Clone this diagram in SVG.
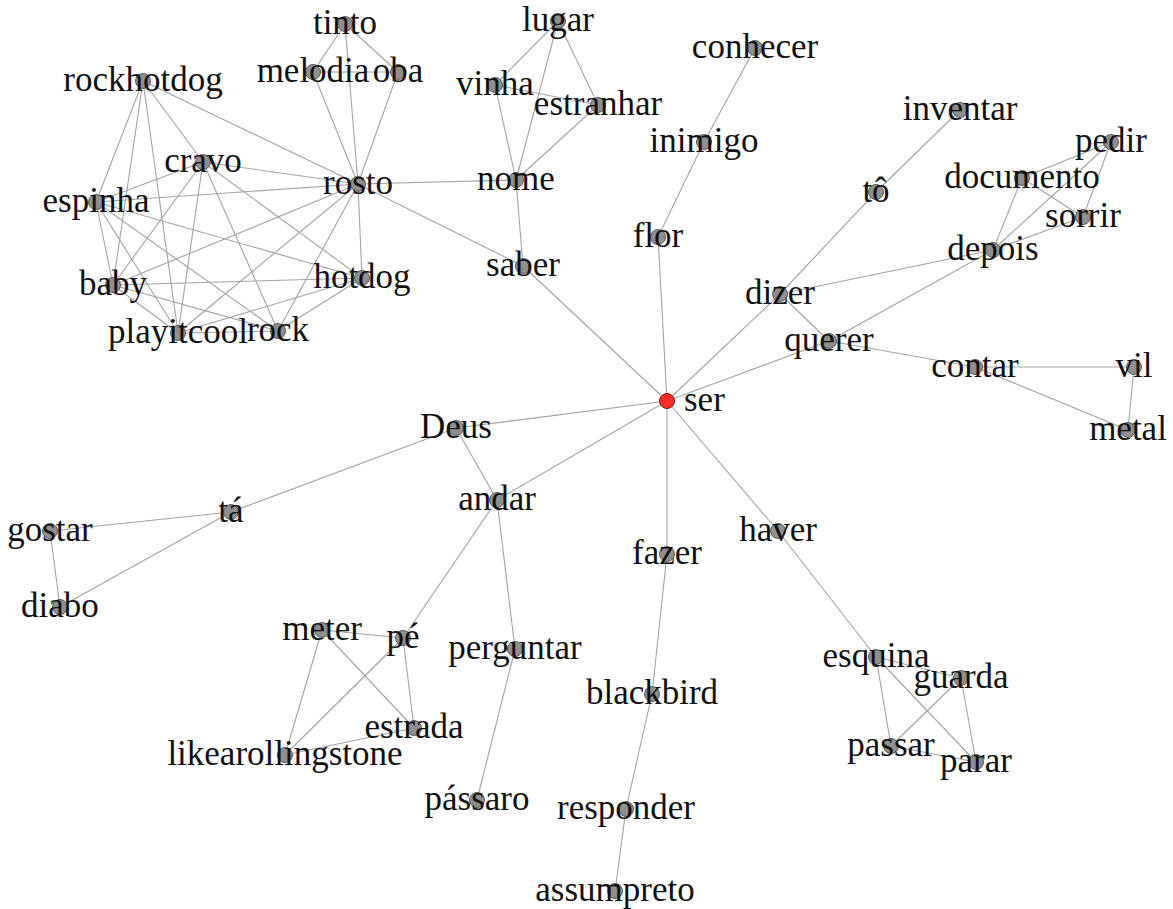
<svg xmlns="http://www.w3.org/2000/svg" width="1173" height="909" viewBox="0 0 1173 909">
<style>
.e{stroke:#a3a3a3;stroke-width:1.1;fill:none}
.n{fill:#8f8f8f;stroke:#5a5a5a;stroke-width:1}
.s{fill:#ff2a2a;stroke:#7a1a1a;stroke-width:1}
text{font-family:"Liberation Serif","Times New Roman",serif;font-size:35px;fill:#111;text-anchor:middle}
</style>
<rect width="1173" height="909" fill="#fff"/>
<g id="edges">
<line class="e" x1="345" y1="24" x2="313" y2="72"/>
<line class="e" x1="345" y1="24" x2="398" y2="72"/>
<line class="e" x1="345" y1="24" x2="358" y2="184"/>
<line class="e" x1="313" y1="72" x2="398" y2="72"/>
<line class="e" x1="313" y1="72" x2="358" y2="184"/>
<line class="e" x1="398" y1="72" x2="358" y2="184"/>
<line class="e" x1="143" y1="81" x2="358" y2="184"/>
<line class="e" x1="143" y1="81" x2="203" y2="162"/>
<line class="e" x1="143" y1="81" x2="96" y2="202"/>
<line class="e" x1="143" y1="81" x2="113" y2="285"/>
<line class="e" x1="143" y1="81" x2="178" y2="333"/>
<line class="e" x1="203" y1="162" x2="358" y2="184"/>
<line class="e" x1="203" y1="162" x2="96" y2="202"/>
<line class="e" x1="203" y1="162" x2="113" y2="285"/>
<line class="e" x1="203" y1="162" x2="178" y2="333"/>
<line class="e" x1="203" y1="162" x2="278" y2="331"/>
<line class="e" x1="203" y1="162" x2="362" y2="278"/>
<line class="e" x1="96" y1="202" x2="358" y2="184"/>
<line class="e" x1="96" y1="202" x2="113" y2="285"/>
<line class="e" x1="96" y1="202" x2="178" y2="333"/>
<line class="e" x1="96" y1="202" x2="278" y2="331"/>
<line class="e" x1="96" y1="202" x2="362" y2="278"/>
<line class="e" x1="113" y1="285" x2="358" y2="184"/>
<line class="e" x1="113" y1="285" x2="362" y2="278"/>
<line class="e" x1="113" y1="285" x2="278" y2="331"/>
<line class="e" x1="113" y1="285" x2="178" y2="333"/>
<line class="e" x1="178" y1="333" x2="358" y2="184"/>
<line class="e" x1="178" y1="333" x2="362" y2="278"/>
<line class="e" x1="178" y1="333" x2="278" y2="331"/>
<line class="e" x1="278" y1="331" x2="358" y2="184"/>
<line class="e" x1="278" y1="331" x2="362" y2="278"/>
<line class="e" x1="362" y1="278" x2="358" y2="184"/>
<line class="e" x1="358" y1="184" x2="516" y2="180"/>
<line class="e" x1="358" y1="184" x2="523" y2="266"/>
<line class="e" x1="558" y1="21" x2="495" y2="85"/>
<line class="e" x1="558" y1="21" x2="516" y2="180"/>
<line class="e" x1="558" y1="21" x2="598" y2="105"/>
<line class="e" x1="495" y1="85" x2="598" y2="105"/>
<line class="e" x1="495" y1="85" x2="516" y2="180"/>
<line class="e" x1="598" y1="105" x2="516" y2="180"/>
<line class="e" x1="516" y1="180" x2="523" y2="266"/>
<line class="e" x1="755" y1="48" x2="704" y2="142"/>
<line class="e" x1="704" y1="142" x2="658" y2="237"/>
<line class="e" x1="658" y1="237" x2="667" y2="401"/>
<line class="e" x1="523" y1="266" x2="667" y2="401"/>
<line class="e" x1="960" y1="110" x2="876" y2="192"/>
<line class="e" x1="876" y1="192" x2="780" y2="294"/>
<line class="e" x1="1111" y1="142" x2="1022" y2="178"/>
<line class="e" x1="1111" y1="142" x2="1083" y2="217"/>
<line class="e" x1="1111" y1="142" x2="993" y2="250"/>
<line class="e" x1="1022" y1="178" x2="1083" y2="217"/>
<line class="e" x1="1022" y1="178" x2="993" y2="250"/>
<line class="e" x1="1083" y1="217" x2="993" y2="250"/>
<line class="e" x1="993" y1="250" x2="780" y2="294"/>
<line class="e" x1="993" y1="250" x2="829" y2="341"/>
<line class="e" x1="780" y1="294" x2="829" y2="341"/>
<line class="e" x1="780" y1="294" x2="667" y2="401"/>
<line class="e" x1="829" y1="341" x2="667" y2="401"/>
<line class="e" x1="829" y1="341" x2="975" y2="367"/>
<line class="e" x1="975" y1="367" x2="1134" y2="367"/>
<line class="e" x1="975" y1="367" x2="1128" y2="430"/>
<line class="e" x1="1134" y1="367" x2="1128" y2="430"/>
<line class="e" x1="667" y1="401" x2="456" y2="428"/>
<line class="e" x1="667" y1="401" x2="497" y2="500"/>
<line class="e" x1="667" y1="401" x2="667" y2="554"/>
<line class="e" x1="667" y1="401" x2="778" y2="531"/>
<line class="e" x1="456" y1="428" x2="231" y2="512"/>
<line class="e" x1="456" y1="428" x2="497" y2="500"/>
<line class="e" x1="231" y1="512" x2="50" y2="531"/>
<line class="e" x1="231" y1="512" x2="60" y2="607"/>
<line class="e" x1="50" y1="531" x2="60" y2="607"/>
<line class="e" x1="497" y1="500" x2="403" y2="638"/>
<line class="e" x1="497" y1="500" x2="515" y2="649"/>
<line class="e" x1="322" y1="630" x2="403" y2="638"/>
<line class="e" x1="322" y1="630" x2="414" y2="728"/>
<line class="e" x1="322" y1="630" x2="285" y2="755"/>
<line class="e" x1="403" y1="638" x2="414" y2="728"/>
<line class="e" x1="403" y1="638" x2="285" y2="755"/>
<line class="e" x1="414" y1="728" x2="285" y2="755"/>
<line class="e" x1="515" y1="649" x2="477" y2="800"/>
<line class="e" x1="667" y1="554" x2="652" y2="694"/>
<line class="e" x1="652" y1="694" x2="626" y2="809"/>
<line class="e" x1="626" y1="809" x2="615" y2="891"/>
<line class="e" x1="778" y1="531" x2="876" y2="657"/>
<line class="e" x1="876" y1="657" x2="961" y2="678"/>
<line class="e" x1="876" y1="657" x2="891" y2="746"/>
<line class="e" x1="876" y1="657" x2="976" y2="762"/>
<line class="e" x1="961" y1="678" x2="891" y2="746"/>
<line class="e" x1="961" y1="678" x2="976" y2="762"/>
<line class="e" x1="891" y1="746" x2="976" y2="762"/>
</g>
<g id="n-rockhotdog"><circle class="n" cx="143" cy="81" r="7.5"/><text x="143" y="91">rockhotdog</text></g>
<g id="n-tinto"><circle class="n" cx="345" cy="24" r="7.5"/><text x="345" y="34">tinto</text></g>
<g id="n-melodia"><circle class="n" cx="313" cy="72" r="7.5"/><text x="313" y="82">melodia</text></g>
<g id="n-oba"><circle class="n" cx="398" cy="72" r="7.5"/><text x="398" y="82">oba</text></g>
<g id="n-cravo"><circle class="n" cx="203" cy="162" r="7.5"/><text x="203" y="172">cravo</text></g>
<g id="n-rosto"><circle class="n" cx="358" cy="184" r="7.5"/><text x="358" y="194">rosto</text></g>
<g id="n-espinha"><circle class="n" cx="96" cy="202" r="7.5"/><text x="96" y="212">espinha</text></g>
<g id="n-hotdog"><circle class="n" cx="362" cy="278" r="7.5"/><text x="362" y="288">hotdog</text></g>
<g id="n-baby"><circle class="n" cx="113" cy="285" r="7.5"/><text x="113" y="295">baby</text></g>
<g id="n-playitcool"><circle class="n" cx="178" cy="333" r="7.5"/><text x="178" y="343">playitcool</text></g>
<g id="n-rock"><circle class="n" cx="278" cy="331" r="7.5"/><text x="278" y="341">rock</text></g>
<g id="n-lugar"><circle class="n" cx="558" cy="21" r="7.5"/><text x="558" y="31">lugar</text></g>
<g id="n-vinha"><circle class="n" cx="495" cy="85" r="7.5"/><text x="495" y="95">vinha</text></g>
<g id="n-estranhar"><circle class="n" cx="598" cy="105" r="7.5"/><text x="598" y="115">estranhar</text></g>
<g id="n-nome"><circle class="n" cx="516" cy="180" r="7.5"/><text x="516" y="190">nome</text></g>
<g id="n-saber"><circle class="n" cx="523" cy="266" r="7.5"/><text x="523" y="276">saber</text></g>
<g id="n-conhecer"><circle class="n" cx="755" cy="48" r="7.5"/><text x="755" y="58">conhecer</text></g>
<g id="n-inimigo"><circle class="n" cx="704" cy="142" r="7.5"/><text x="704" y="152">inimigo</text></g>
<g id="n-flor"><circle class="n" cx="658" cy="237" r="7.5"/><text x="658" y="247">flor</text></g>
<g id="n-inventar"><circle class="n" cx="960" cy="110" r="7.5"/><text x="960" y="120">inventar</text></g>
<g id="n-to"><circle class="n" cx="876" cy="192" r="7.5"/><text x="876" y="202">tô</text></g>
<g id="n-pedir"><circle class="n" cx="1111" cy="142" r="7.5"/><text x="1111" y="152">pedir</text></g>
<g id="n-documento"><circle class="n" cx="1022" cy="178" r="7.5"/><text x="1022" y="188">documento</text></g>
<g id="n-sorrir"><circle class="n" cx="1083" cy="217" r="7.5"/><text x="1083" y="227">sorrir</text></g>
<g id="n-depois"><circle class="n" cx="993" cy="250" r="7.5"/><text x="993" y="260">depois</text></g>
<g id="n-dizer"><circle class="n" cx="780" cy="294" r="7.5"/><text x="780" y="304">dizer</text></g>
<g id="n-querer"><circle class="n" cx="829" cy="341" r="7.5"/><text x="829" y="351">querer</text></g>
<g id="n-contar"><circle class="n" cx="975" cy="367" r="7.5"/><text x="975" y="377">contar</text></g>
<g id="n-vil"><circle class="n" cx="1134" cy="367" r="7.5"/><text x="1134" y="377">vil</text></g>
<g id="n-metal"><circle class="n" cx="1128" cy="430" r="7.5"/><text x="1128" y="440">metal</text></g>
<g id="n-ser"><circle class="s" cx="667" cy="401" r="7.5"/><text x="684" y="411" style="text-anchor:start">ser</text></g>
<g id="n-Deus"><circle class="n" cx="456" cy="428" r="7.5"/><text x="456" y="438">Deus</text></g>
<g id="n-andar"><circle class="n" cx="497" cy="500" r="7.5"/><text x="497" y="510">andar</text></g>
<g id="n-ta"><circle class="n" cx="231" cy="512" r="7.5"/><text x="231" y="522">tá</text></g>
<g id="n-gostar"><circle class="n" cx="50" cy="531" r="7.5"/><text x="50" y="541">gostar</text></g>
<g id="n-diabo"><circle class="n" cx="60" cy="607" r="7.5"/><text x="60" y="617">diabo</text></g>
<g id="n-haver"><circle class="n" cx="778" cy="531" r="7.5"/><text x="778" y="541">haver</text></g>
<g id="n-fazer"><circle class="n" cx="667" cy="554" r="7.5"/><text x="667" y="564">fazer</text></g>
<g id="n-meter"><circle class="n" cx="322" cy="630" r="7.5"/><text x="322" y="640">meter</text></g>
<g id="n-pe"><circle class="n" cx="403" cy="638" r="7.5"/><text x="403" y="648">pé</text></g>
<g id="n-perguntar"><circle class="n" cx="515" cy="649" r="7.5"/><text x="515" y="659">perguntar</text></g>
<g id="n-estrada"><circle class="n" cx="414" cy="728" r="7.5"/><text x="414" y="738">estrada</text></g>
<g id="n-likearollingstone"><circle class="n" cx="285" cy="755" r="7.5"/><text x="285" y="765">likearollingstone</text></g>
<g id="n-passaro"><circle class="n" cx="477" cy="800" r="7.5"/><text x="477" y="810">pássaro</text></g>
<g id="n-blackbird"><circle class="n" cx="652" cy="694" r="7.5"/><text x="652" y="704">blackbird</text></g>
<g id="n-responder"><circle class="n" cx="626" cy="809" r="7.5"/><text x="626" y="819">responder</text></g>
<g id="n-assumpreto"><circle class="n" cx="615" cy="891" r="7.5"/><text x="615" y="901">assumpreto</text></g>
<g id="n-esquina"><circle class="n" cx="876" cy="657" r="7.5"/><text x="876" y="667">esquina</text></g>
<g id="n-guarda"><circle class="n" cx="961" cy="678" r="7.5"/><text x="961" y="688">guarda</text></g>
<g id="n-passar"><circle class="n" cx="891" cy="746" r="7.5"/><text x="891" y="756">passar</text></g>
<g id="n-parar"><circle class="n" cx="976" cy="762" r="7.5"/><text x="976" y="772">parar</text></g>
</svg>
